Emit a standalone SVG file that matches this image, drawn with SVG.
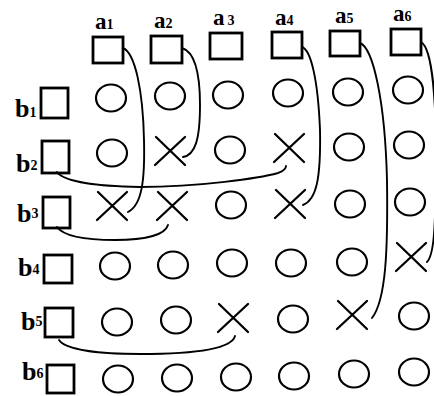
<svg xmlns="http://www.w3.org/2000/svg" xmlns:xlink="http://www.w3.org/1999/xlink" width="434" height="396" viewBox="0 0 434 396">
<style>
.box{fill:#fff;stroke:#000;stroke-width:2.8}
.o{fill:none;stroke:#000;stroke-width:2.2}
.x{fill:none;stroke:#000;stroke-width:2.3;stroke-linecap:round}
.lbl{font-family:"Liberation Serif",serif;font-size:26px;font-weight:bold;fill:#000}
.la{font-size:23px}
.sub{font-size:14px}
.link{fill:none;stroke:#000;stroke-width:1.9;stroke-linecap:round}
</style>
<defs>
<g id="cross"><path class="x" d="M-15,14 L15,-14 M-14,-14 L15,14"/></g>
<ellipse id="circ" class="o" cx="0" cy="0" rx="15" ry="13.5"/>
</defs>
<rect width="434" height="396" fill="#fff"/>

<!-- column nodes -->
<g id="a1"><text class="lbl la" x="95" y="29">a<tspan class="sub">1</tspan></text><rect class="box" x="93" y="37" width="30" height="26"/></g>
<g id="a2"><text class="lbl la" x="154" y="28">a<tspan class="sub">2</tspan></text><rect class="box" x="151" y="36" width="31" height="27"/></g>
<g id="a3"><text class="lbl la" x="213" y="25">a<tspan class="sub" dx="3">3</tspan></text><rect class="box" x="210" y="33" width="32" height="26"/></g>
<g id="a4"><text class="lbl la" x="275" y="25">a<tspan class="sub">4</tspan></text><rect class="box" x="272" y="32" width="30" height="26"/></g>
<g id="a5"><text class="lbl la" x="335" y="23">a<tspan class="sub">5</tspan></text><rect class="box" x="330" y="31" width="30" height="25"/></g>
<g id="a6"><text class="lbl la" x="393" y="21">a<tspan class="sub">6</tspan></text><rect class="box" x="391" y="29" width="30" height="26"/></g>

<!-- row nodes -->
<g id="b1"><text class="lbl" x="15" y="117">b<tspan class="sub">1</tspan></text><rect class="box" x="41" y="88" width="27" height="30"/></g>
<g id="b2"><text class="lbl" x="16" y="172">b<tspan class="sub" dy="-2">2</tspan></text><rect class="box" x="42" y="141" width="27" height="32"/></g>
<g id="b3"><text class="lbl" x="17" y="222">b<tspan class="sub" dy="-4">3</tspan></text><rect class="box" x="43" y="197" width="27" height="31"/></g>
<g id="b4"><text class="lbl" x="18" y="276">b<tspan class="sub" dy="-2">4</tspan></text><rect class="box" x="44" y="255" width="28" height="28"/></g>
<g id="b5"><text class="lbl" x="21" y="330">b<tspan class="sub" dy="-4">5</tspan></text><rect class="box" x="45" y="308" width="28" height="29"/></g>
<g id="b6"><text class="lbl" x="22" y="380">b<tspan class="sub" dy="-2">6</tspan></text><rect class="box" x="47" y="365" width="27" height="28"/></g>

<!-- row 1 -->
<g id="r1c1"><use xlink:href="#circ" x="111" y="98"/></g>
<g id="r1c2"><use xlink:href="#circ" x="170" y="96"/></g>
<g id="r1c3"><use xlink:href="#circ" x="228" y="95"/></g>
<g id="r1c4"><use xlink:href="#circ" x="288" y="93"/></g>
<g id="r1c5"><use xlink:href="#circ" x="348" y="92"/></g>
<g id="r1c6"><use xlink:href="#circ" x="408" y="90"/></g>
<!-- row 2 -->
<g id="r2c1"><use xlink:href="#circ" x="112" y="153"/></g>
<g id="r2c2"><use xlink:href="#cross" x="170" y="151"/></g>
<g id="r2c3"><use xlink:href="#circ" x="230" y="150"/></g>
<g id="r2c4"><use xlink:href="#cross" x="289" y="148"/></g>
<g id="r2c5"><use xlink:href="#circ" x="349" y="147"/></g>
<g id="r2c6"><use xlink:href="#circ" x="409" y="145"/></g>
<!-- row 3 -->
<g id="r3c1"><use xlink:href="#cross" x="112" y="206"/></g>
<g id="r3c2"><use xlink:href="#cross" x="172" y="206"/></g>
<g id="r3c3"><use xlink:href="#circ" x="231" y="205"/></g>
<g id="r3c4"><use xlink:href="#cross" x="290" y="204"/></g>
<g id="r3c5"><use xlink:href="#circ" x="350" y="204"/></g>
<g id="r3c6"><use xlink:href="#circ" x="410" y="202"/></g>
<!-- row 4 -->
<g id="r4c1"><use xlink:href="#circ" x="115" y="266"/></g>
<g id="r4c2"><use xlink:href="#circ" x="173" y="265"/></g>
<g id="r4c3"><use xlink:href="#circ" x="232" y="263"/></g>
<g id="r4c4"><use xlink:href="#circ" x="291" y="263"/></g>
<g id="r4c5"><use xlink:href="#circ" x="352" y="262"/></g>
<g id="r4c6"><use xlink:href="#cross" x="411" y="257"/></g>
<!-- row 5 -->
<g id="r5c1"><use xlink:href="#circ" x="117" y="322"/></g>
<g id="r5c2"><use xlink:href="#circ" x="176" y="320"/></g>
<g id="r5c3"><use xlink:href="#cross" x="233" y="318"/></g>
<g id="r5c4"><use xlink:href="#circ" x="293" y="319"/></g>
<g id="r5c5"><use xlink:href="#cross" x="352" y="315"/></g>
<g id="r5c6"><use xlink:href="#circ" x="414" y="316"/></g>
<!-- row 6 -->
<g id="r6c1"><use xlink:href="#circ" x="118" y="379"/></g>
<g id="r6c2"><use xlink:href="#circ" x="177" y="378"/></g>
<g id="r6c3"><use xlink:href="#circ" x="236" y="377"/></g>
<g id="r6c4"><use xlink:href="#circ" x="294" y="376"/></g>
<g id="r6c5"><use xlink:href="#circ" x="354" y="374"/></g>
<g id="r6c6"><use xlink:href="#circ" x="414" y="372"/></g>

<!-- connectors -->
<g id="connectors">
<path class="link" d="M123,48 C135,53 143,90 144,140 C145,180 142,205 128,212"/>
<path class="link" d="M182,48 C195,52 200,75 200,105 C200,140 195,155 183,157"/>
<path class="link" d="M302,47 C311,50 318,80 320,130 C321,180 316,200 303,205"/>
<path class="link" d="M360,43 C373,48 385,100 387,180 C388,250 386,300 372,318"/>
<path class="link" d="M421,42 C432,48 437,100 436,180 C435,230 434,255 427,262"/>
<path class="link" d="M57,172 C65,183 100,186 140,187 C200,187 260,178 278,173 C284,171 286,169 286,166"/>
<path class="link" d="M57,227 C65,238 90,240 115,240 C145,240 165,235 168,225"/>
<path class="link" d="M59,340 C66,350 100,354 140,354 C200,354 232,348 235,336"/>
</g>
</svg>
